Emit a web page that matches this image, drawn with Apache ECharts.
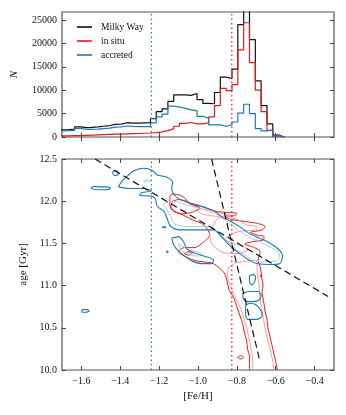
<!DOCTYPE html>
<html>
<head>
<meta charset="utf-8">
<script src="https://cdn.jsdelivr.net/npm/echarts@6/dist/echarts.min.js"></script>
<style>
  html, body { margin: 0; padding: 0; background: #fff; }
  #chart { width: 346px; height: 415px; }
</style>
</head>
<body>
<div id="chart"></div>
<script>
// histogram bins ([Fe/H])
const binStart = -1.725;
const binWidth = 0.03;
const milkyWay = [1550,1600,1700,2150,2000,2050,2150,2300,2450,2700,2750,3050,2950,2950,3000,3050,3900,5400,6000,7600,9000,9000,8900,9300,8000,7200,7100,9500,12800,12500,14500,24000,31000,20800,12000,6700,2800,400,0];
const inSitu = [250,250,300,300,350,400,450,500,550,600,600,650,700,750,800,850,950,1100,1350,1750,2300,2900,3100,2800,2800,3000,4300,6700,10400,9900,11200,18600,24400,15900,10000,5400,1400,50,0];
const accreted = [1300,1350,1400,1850,1650,1650,1700,1800,1900,2100,2150,2350,2250,2200,2200,2200,3000,4300,4900,6600,6400,6100,5800,5600,4400,4000,2600,2600,2300,2600,3200,5100,7000,5000,1800,1300,1500,300,0];

// ticks
const xTicks = [-1.6, -1.4, -1.2, -1.0, -0.8, -0.6, -0.4];
const nTicks = [0, 5000, 10000, 15000, 20000, 25000];
const ageTicks = [10.0, 10.5, 11.0, 11.5, 12.0, 12.5];

// vertical reference lines
const feHCutAcc = -1.24;
const feHCutInSitu = -0.826;

// dashed fits in age-[Fe/H]
const fitShallow = [[-1.53, 12.5], [-0.33, 10.87]];
const fitSteep = [[-0.93, 12.5], [-0.68, 10.09]];

// contours: accreted (outer level)
const accBand = [[-1.41,12.17],[-1.39,12.24],[-1.365,12.295],[-1.335,12.355],[-1.28,12.39],[-1.235,12.365],[-1.21,12.31],[-1.16,12.285],[-1.13,12.22],[-1.135,12.16],[-1.13,12.10],[-1.10,12.03],[-1.06,11.99],[-1.01,11.96],[-0.97,11.93],[-0.92,11.89],[-0.88,11.82],[-0.83,11.76],[-0.78,11.69],[-0.73,11.61],[-0.66,11.54],[-0.59,11.44],[-0.565,11.35],[-0.58,11.26],[-0.64,11.25],[-0.71,11.27],[-0.78,11.37],[-0.83,11.46],[-0.88,11.58],[-0.92,11.66],[-0.99,11.66],[-1.05,11.66],[-1.09,11.66],[-1.14,11.70],[-1.16,11.80],[-1.175,11.88],[-1.21,11.94],[-1.22,12.03],[-1.24,12.06],[-1.30,12.07],[-1.29,12.10],[-1.24,12.12],[-1.28,12.15],[-1.35,12.15],[-1.41,12.17]];
const accLower = [[-1.135,11.56],[-1.10,11.58],[-1.075,11.52],[-1.055,11.43],[-1.02,11.39],[-0.97,11.35],[-0.92,11.30],[-0.93,11.26],[-0.98,11.26],[-1.03,11.29],[-1.07,11.35],[-1.105,11.42],[-1.125,11.48],[-1.135,11.56]];
const accBlob1 = [[-0.735,11.12],[-0.715,11.13],[-0.703,11.10],[-0.71,11.04],[-0.725,11.01],[-0.735,11.05],[-0.735,11.12]];
const accBlob2 = [[-0.77,10.91],[-0.74,10.93],[-0.69,10.93],[-0.675,10.88],[-0.69,10.82],[-0.74,10.81],[-0.765,10.84],[-0.77,10.91]];
const accBlob3 = [[-0.755,10.77],[-0.73,10.79],[-0.70,10.77],[-0.675,10.70],[-0.67,10.64],[-0.70,10.60],[-0.745,10.60],[-0.755,10.66],[-0.755,10.77]];
const accBlob4 = [[-1.44,12.33],[-1.435,12.355],[-1.42,12.36],[-1.41,12.34],[-1.415,12.31],[-1.43,12.305],[-1.44,12.33]];
const accBlob5 = [[-1.55,12.15],[-1.54,12.175],[-1.50,12.17],[-1.47,12.17],[-1.45,12.155],[-1.46,12.14],[-1.51,12.135],[-1.55,12.15]];
const accBlob6 = [[-1.60,10.70],[-1.59,10.715],[-1.57,10.715],[-1.56,10.70],[-1.575,10.685],[-1.595,10.685],[-1.60,10.70]];
const accDot1 = [[-1.185,11.69],[-1.175,11.70],[-1.165,11.69],[-1.175,11.683],[-1.185,11.69]];
const accDot2 = [[-1.162,11.40],[-1.158,11.41],[-1.154,11.40],[-1.158,11.39],[-1.162,11.40]];
// accreted (inner level)
const accInner1 = [[-1.18,11.96],[-1.13,12.00],[-1.05,11.95],[-0.97,11.90],[-0.90,11.84],[-0.83,11.72],[-0.74,11.58],[-0.66,11.49],[-0.59,11.40],[-0.58,11.33],[-0.60,11.29],[-0.66,11.28],[-0.72,11.31],[-0.79,11.41],[-0.84,11.50],[-0.89,11.62],[-0.94,11.70],[-1.05,11.70],[-1.12,11.73],[-1.14,11.82],[-1.16,11.90],[-1.18,11.96]];
const accInner2 = [[-1.28,12.24],[-1.26,12.25],[-1.245,12.235],[-1.26,12.225],[-1.28,12.24]];
const accInner3 = [[-1.10,11.50],[-1.08,11.47],[-1.04,11.42],[-1.00,11.40],[-0.98,11.36],[-1.01,11.35],[-1.05,11.38],[-1.09,11.43],[-1.10,11.50]];

// contours: in situ (outer level)
const insituOuter = [[-1.145,12.06],[-1.13,12.085],[-1.09,12.07],[-1.065,12.03],[-1.045,11.97],[-1.01,11.95],[-0.97,11.93],[-0.93,11.89],[-0.87,11.87],[-0.80,11.855],[-0.81,11.83],[-0.86,11.82],[-0.82,11.78],[-0.76,11.76],[-0.70,11.74],[-0.655,11.70],[-0.67,11.66],[-0.73,11.63],[-0.70,11.60],[-0.66,11.58],[-0.665,11.54],[-0.72,11.52],[-0.76,11.49],[-0.72,11.46],[-0.68,11.40],[-0.69,11.30],[-0.68,11.22],[-0.675,11.15],[-0.67,11.07],[-0.665,11.00],[-0.67,10.93],[-0.667,10.87],[-0.66,10.78],[-0.655,10.70],[-0.645,10.60],[-0.64,10.50],[-0.63,10.40],[-0.62,10.30],[-0.61,10.20],[-0.60,10.10],[-0.59,9.98],[-0.73,9.98],[-0.735,10.08],[-0.735,10.16],[-0.745,10.25],[-0.75,10.35],[-0.762,10.45],[-0.77,10.55],[-0.785,10.65],[-0.80,10.75],[-0.815,10.85],[-0.84,10.95],[-0.85,11.05],[-0.865,11.15],[-0.92,11.26],[-0.97,11.28],[-1.02,11.30],[-1.07,11.35],[-1.10,11.40],[-1.07,11.45],[-1.02,11.45],[-0.98,11.50],[-0.94,11.60],[-0.97,11.72],[-1.03,11.78],[-1.08,11.84],[-1.125,11.88],[-1.145,11.95],[-1.145,12.06]];
const insituLoop = [[-1.13,12.0],[-1.10,12.02],[-1.05,11.99],[-1.02,11.95],[-0.99,11.92],[-1.03,11.87],[-1.08,11.85],[-1.12,11.88],[-1.14,11.94],[-1.13,12.0]];
const insituDot1 = [[-0.797,10.15],[-0.78,10.17],[-0.765,10.15],[-0.78,10.13],[-0.797,10.15]];
const insituDot2 = [[-0.682,11.115],[-0.676,11.125],[-0.67,11.115],[-0.676,11.108],[-0.682,11.115]];
const insituDot3 = [[-1.07,11.38],[-1.05,11.40],[-1.03,11.38],[-1.05,11.36],[-1.07,11.38]];
// in situ (inner level)
const insituInnerCol = [[-0.84,11.22],[-0.80,11.27],[-0.70,11.30],[-0.695,11.15],[-0.685,11.00],[-0.682,10.87],[-0.67,10.70],[-0.655,10.50],[-0.635,10.30],[-0.615,10.10],[-0.607,9.98],[-0.715,9.98],[-0.72,10.16],[-0.735,10.35],[-0.755,10.55],[-0.785,10.75],[-0.825,10.95],[-0.85,11.15],[-0.84,11.22]];
const insituInnerBand = [[-0.90,11.80],[-0.82,11.80],[-0.75,11.72],[-0.70,11.70],[-0.70,11.66],[-0.76,11.65],[-0.82,11.62],[-0.86,11.55],[-0.78,11.47],[-0.74,11.43],[-0.80,11.38],[-0.88,11.40],[-0.93,11.50],[-0.94,11.62],[-0.92,11.72],[-0.90,11.80]];
const insituInnerTop = [[-1.00,11.91],[-0.95,11.90],[-0.89,11.86],[-0.84,11.84],[-0.88,11.82],[-0.94,11.83],[-0.99,11.86],[-1.00,11.91]];

const colBlack = '#111111';
const colRed = '#e31a1c';
const colRedLight = '#fb9a99';
const colBlue = '#1f78b4';
const colBlueLight = '#a6cee3';
const serif = '"Liberation Serif", "DejaVu Serif", serif';

function histData(values) {
    const pts = values.map((v, i) => [binStart + binWidth * i, v]);
    pts.push([binStart + binWidth * values.length, values[values.length - 1]]);
    return pts;
}

function histSeries(name, values, color) {
    return {
        name: name,
        type: 'line',
        step: 'end',
        xAxisIndex: 0,
        yAxisIndex: 0,
        data: histData(values),
        showSymbol: false,
        lineStyle: { color: color, width: 1.2 },
        itemStyle: { color: color },
        silent: true
    };
}

function lineSeries(points, color, width, type, top, smooth) {
    return {
        type: 'line',
        xAxisIndex: top ? 0 : 2,
        yAxisIndex: top ? 0 : 2,
        data: points,
        showSymbol: false,
        smooth: smooth || false,
        lineStyle: { color: color, width: width, type: type || 'solid' },
        silent: true
    };
}

function xAxisCfg(grid, pos, labels) {
    return {
        type: 'value', gridIndex: grid, position: pos, min: -1.7, max: -0.3,
        axisLine: { show: false },
        splitLine: { show: false },
        axisTick: { inside: true, length: 4, customValues: xTicks, lineStyle: { color: '#444' } },
        axisLabel: {
            show: labels, customValues: xTicks, margin: 6,
            fontFamily: serif, fontSize: 10, color: '#111',
            formatter: v => (v < 0 ? '\u2212' : '') + Math.abs(v).toFixed(1)
        }
    };
}

const chart = echarts.init(document.getElementById('chart'));

const contourSeries = [
    lineSeries(insituOuter, colRed, 1, 'solid', false, 0.3),
    lineSeries(insituInnerCol, colRedLight, 1, 'solid', false, 0.3),
    lineSeries(insituInnerBand, colRedLight, 1, 'solid', false, 0.3),
    lineSeries(insituInnerTop, colRedLight, 1, 'solid', false, 0.3),
    lineSeries(insituLoop, colRed, 1, 'solid', false, 0.3),
    lineSeries(insituDot1, colRed, 1, 'solid', false, 0.3),
    lineSeries(insituDot2, colRed, 1, 'solid', false, 0.3),
    lineSeries(insituDot3, colRed, 1, 'solid', false, 0.3),
    lineSeries(accInner1, colBlueLight, 1, 'solid', false, 0.3),
    lineSeries(accInner2, colBlueLight, 1, 'solid', false, 0.3),
    lineSeries(accInner3, colBlueLight, 1, 'solid', false, 0.3),
    lineSeries(accBand, colBlue, 1.1, 'solid', false, 0.3),
    lineSeries(accLower, colBlue, 1.1, 'solid', false, 0.3),
    lineSeries(accBlob1, colBlue, 1.1, 'solid', false, 0.3),
    lineSeries(accBlob2, colBlue, 1.1, 'solid', false, 0.3),
    lineSeries(accBlob3, colBlue, 1.1, 'solid', false, 0.3),
    lineSeries(accBlob4, colBlue, 1.1, 'solid', false, 0.3),
    lineSeries(accBlob5, colBlue, 1.1, 'solid', false, 0.3),
    lineSeries(accBlob6, colBlue, 1.1, 'solid', false, 0.3),
    lineSeries(accDot1, colBlue, 1.1, 'solid', false, 0.3),
    lineSeries(accDot2, colBlue, 1.1, 'solid', false, 0.3)
];

const option = {
    backgroundColor: '#fff',
    animation: false,
    grid: [
        { left: 62, top: 12, width: 272, height: 125, show: true, borderColor: '#555', borderWidth: 1.2, backgroundColor: 'transparent' },
        { left: 62, top: 159, width: 272, height: 211, show: true, borderColor: '#555', borderWidth: 1.2, backgroundColor: 'transparent' }
    ],
    legend: {
        data: ['Milky Way', 'in situ', 'accreted'],
        orient: 'vertical',
        left: 72,
        top: 17,
        icon: 'rect',
        itemWidth: 15,
        itemHeight: 1.6,
        itemGap: 4,
        textStyle: { fontFamily: serif, fontSize: 9.5, color: '#111', lineHeight: 10, padding: [0, 0, 0, 4] }
    },
    xAxis: [
        xAxisCfg(0, 'bottom', false),
        xAxisCfg(0, 'top', false),
        Object.assign(xAxisCfg(1, 'bottom', true), {
            name: '[Fe/H]', nameLocation: 'middle', nameGap: 21,
            nameTextStyle: { fontFamily: serif, fontSize: 11, color: '#111' }
        }),
        xAxisCfg(1, 'top', false)
    ],
    yAxis: [
        {
            type: 'value', gridIndex: 0, position: 'left', min: 0, max: 26700,
            name: 'N', nameLocation: 'middle', nameGap: 42,
            nameTextStyle: { fontFamily: serif, fontSize: 11, fontStyle: 'italic', color: '#111' },
            axisLine: { show: false }, splitLine: { show: false },
            axisTick: { inside: true, length: 4, customValues: nTicks, lineStyle: { color: '#444' } },
            axisLabel: { customValues: nTicks, margin: 5, fontFamily: serif, fontSize: 10, color: '#111', formatter: v => String(v) }
        },
        {
            type: 'value', gridIndex: 0, position: 'right', min: 0, max: 26700,
            axisLine: { show: false }, splitLine: { show: false },
            axisTick: { inside: true, length: 4, customValues: nTicks, lineStyle: { color: '#444' } },
            axisLabel: { show: false }
        },
        {
            type: 'value', gridIndex: 1, position: 'left', min: 10, max: 12.5, interval: 0.5,
            name: 'age [Gyr]', nameLocation: 'middle', nameGap: 31,
            nameTextStyle: { fontFamily: serif, fontSize: 11, color: '#111' },
            axisLine: { show: false }, splitLine: { show: false },
            axisTick: { inside: true, length: 4, customValues: ageTicks, lineStyle: { color: '#444' } },
            axisLabel: { customValues: ageTicks, margin: 5, fontFamily: serif, fontSize: 10, color: '#111', formatter: v => v.toFixed(1) }
        },
        {
            type: 'value', gridIndex: 1, position: 'right', min: 10, max: 12.5, interval: 0.5,
            axisLine: { show: false }, splitLine: { show: false },
            axisTick: { inside: true, length: 4, customValues: ageTicks, lineStyle: { color: '#444' } },
            axisLabel: { show: false }
        }
    ],
    series: [
        histSeries('Milky Way', milkyWay, colBlack),
        histSeries('in situ', inSitu, colRed),
        histSeries('accreted', accreted, colBlue),
        lineSeries([[feHCutAcc, 0], [feHCutAcc, 26700]], colBlue, 1.2, [1.5, 3], true),
        lineSeries([[feHCutInSitu, 0], [feHCutInSitu, 26700]], colRed, 1.2, [1.5, 3], true),
        ...contourSeries,
        lineSeries([[feHCutAcc, 10], [feHCutAcc, 12.5]], colBlue, 1.2, [1.5, 3], false),
        lineSeries([[feHCutInSitu, 10], [feHCutInSitu, 12.5]], colRed, 1.2, [1.5, 3], false),
        lineSeries(fitShallow, colBlack, 1.2, [7, 4], false),
        lineSeries(fitSteep, colBlack, 1.2, [7, 4], false)
    ]
};

chart.setOption(option);
</script>
</body>
</html>
